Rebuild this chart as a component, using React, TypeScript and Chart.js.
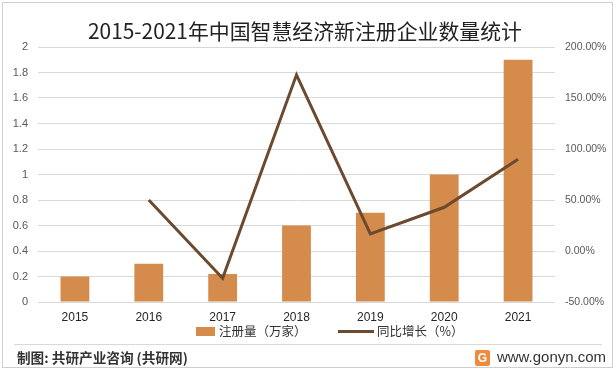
import React, { useEffect, useRef } from "react";
import { Chart, registerables } from "chart.js";

Chart.register(...registerables);

const years = ["2015", "2016", "2017", "2018", "2019", "2020", "2021"];
const registrations = [0.2, 0.3, 0.22, 0.6, 0.7, 1.0, 1.9];
const growthRate = [null, 50, -26.67, 172.73, 16.67, 42.86, 90];

const titleText = "2015-2021年中国智慧经济新注册企业数量统计";
const barLabel = "注册量（万家）";
const lineLabel = "同比增长（%）";
const footerLeft = "制图: 共研产业咨询 (共研网)";
const footerRight = "www.gonyn.com";

const BAR_COLOR = "#D48B4C";
const LINE_COLOR = "#6B4A2F";
const GRID_COLOR = "#D9D9D9";
const CJK = "'Noto Sans CJK SC', 'Noto Sans', sans-serif";
const LATIN = "'Liberation Sans', Arial, sans-serif";

function fitFont(ctx: CanvasRenderingContext2D, text: string, weight: string, family: string, target: number) {
  const base = 20;
  ctx.font = `${weight} ${base}px ${family}`;
  const w = ctx.measureText(text).width;
  const size = (base * target) / w;
  return `${weight} ${size.toFixed(2)}px ${family}`;
}

const decorPlugin = {
  id: "decor",
  afterDraw(chart: any) {
    const ctx: CanvasRenderingContext2D = chart.ctx;
    ctx.save();
    // outer border
    ctx.strokeStyle = "#CFCFCF";
    ctx.lineWidth = 1;
    ctx.strokeRect(2.5, 2.5, 610, 365);

    // title
    ctx.fillStyle = "#222222";
    ctx.textBaseline = "middle";
    ctx.textAlign = "left";
    ctx.font = fitFont(ctx, titleText, "normal", CJK, 434);
    ctx.fillText(titleText, 88, 31);

    // legend
    ctx.fillStyle = BAR_COLOR;
    ctx.fillRect(196, 327, 19, 9);
    ctx.fillStyle = "#333333";
    ctx.font = `normal 12.5px ${CJK}`;
    ctx.fillText(barLabel, 219, 331);
    ctx.strokeStyle = LINE_COLOR;
    ctx.lineWidth = 3;
    ctx.beginPath();
    ctx.moveTo(338, 331.5);
    ctx.lineTo(374, 331.5);
    ctx.stroke();
    ctx.fillStyle = "#333333";
    ctx.fillText(lineLabel, 377, 331);

    // separator
    ctx.strokeStyle = GRID_COLOR;
    ctx.lineWidth = 1;
    ctx.beginPath();
    ctx.moveTo(14, 344.5);
    ctx.lineTo(602, 344.5);
    ctx.stroke();

    // footer left
    ctx.fillStyle = "#333333";
    ctx.font = fitFont(ctx, footerLeft, "bold", CJK, 171);
    ctx.fillText(footerLeft, 17, 358);

    // logo
    ctx.fillStyle = "#F08A3C";
    ctx.beginPath();
    ctx.roundRect(475, 350, 15, 16, 2);
    ctx.fill();
    ctx.fillStyle = "#FFFFFF";
    ctx.font = `bold 12px ${LATIN}`;
    ctx.textAlign = "center";
    ctx.fillText("G", 482.5, 358.5);

    // footer right
    ctx.textAlign = "left";
    ctx.fillStyle = "#333333";
    ctx.font = fitFont(ctx, footerRight, "normal", LATIN, 109);
    ctx.fillText(footerRight, 497, 358);
    ctx.restore();
  },
};

export default function App() {
  const canvasRef = useRef<HTMLCanvasElement | null>(null);

  useEffect(() => {
    if (!canvasRef.current) return;
    const chart = new Chart(canvasRef.current, {
      type: "bar",
      data: {
        labels: years,
        datasets: [
          {
            type: "line",
            label: lineLabel,
            data: growthRate,
            yAxisID: "y1",
            borderColor: LINE_COLOR,
            backgroundColor: LINE_COLOR,
            borderWidth: 3,
            pointRadius: 0,
            tension: 0,
            order: 0,
          } as any,
          {
            type: "bar",
            label: barLabel,
            data: registrations,
            yAxisID: "y",
            backgroundColor: BAR_COLOR,
            barPercentage: 0.39,
            categoryPercentage: 1,
            order: 1,
          },
        ],
      },
      options: {
        responsive: false,
        animation: false,
        layout: { padding: { top: 47, bottom: 41, left: 0, right: 0 } },
        plugins: {
          legend: { display: false },
          title: { display: false },
          tooltip: { enabled: false },
        },
        scales: {
          x: {
            grid: { display: false, drawTicks: false },
            border: { display: false },
            ticks: { color: "#262626", font: { size: 12, family: LATIN }, padding: 8 },
            afterFit: (s: any) => {
              s.height = 28;
            },
          },
          y: {
            position: "left",
            min: 0,
            max: 2,
            grid: { color: GRID_COLOR, drawTicks: false },
            border: { display: false },
            ticks: {
              stepSize: 0.2,
              padding: 10,
              color: "#595959",
              font: { size: 11, family: LATIN },
              callback: (v: any) => String(Number(Number(v).toFixed(1))),
            },
            afterFit: (s: any) => {
              s.width = 38;
            },
          },
          y1: {
            position: "right",
            min: -50,
            max: 200,
            grid: { display: false, drawTicks: false },
            border: { display: false },
            ticks: {
              stepSize: 50,
              padding: 10,
              color: "#595959",
              font: { size: 10.5, family: LATIN },
              callback: (v: any) => Number(v).toFixed(2) + "%",
            },
            afterFit: (s: any) => {
              s.width = 61;
            },
          },
        },
      },
      plugins: [decorPlugin],
    });
    return () => chart.destroy();
  }, []);

  return (
    <div style={{ position: "fixed", left: 0, top: 0, width: 616, height: 371, background: "#fff" }}>
      <canvas ref={canvasRef} width={616} height={371} style={{ display: "block" }} />
    </div>
  );
}
